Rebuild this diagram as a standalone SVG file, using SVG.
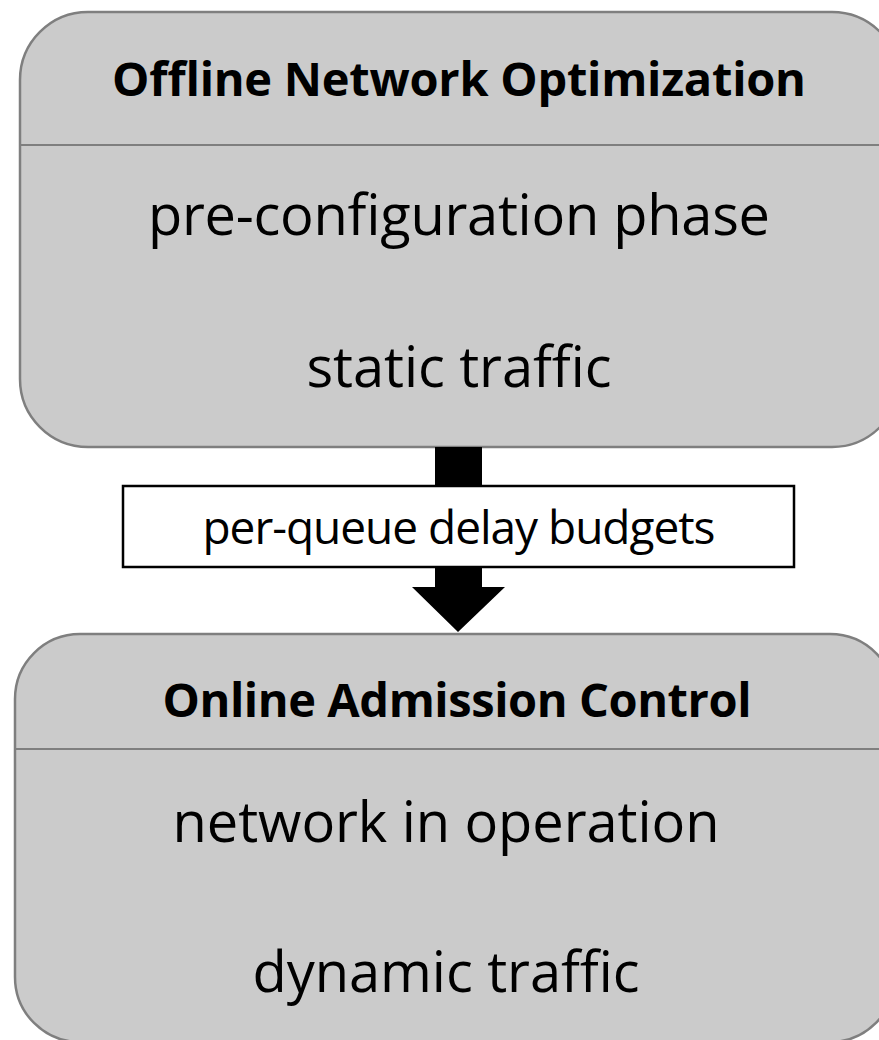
<svg xmlns="http://www.w3.org/2000/svg" width="879" height="1040" viewBox="0 0 879 1040">
  <style>
    .box { fill: #cbcbcb; stroke: #7f7f7f; stroke-width: 2.5; }
    .rule { stroke: #7f7f7f; stroke-width: 2; }
    .title { font-family: "Open Sans", "Liberation Sans", sans-serif; font-weight: bold; font-size: 47px; fill: #000; text-anchor: middle; }
    .body { font-family: "Open Sans", "Liberation Sans", sans-serif; font-size: 56px; fill: #000; text-anchor: middle; }
    .label { font-family: "Open Sans", "Liberation Sans", sans-serif; font-size: 46px; fill: #000; text-anchor: middle; }
  </style>
  <rect width="879" height="1040" fill="#ffffff"/>

  <!-- offline phase -->
  <g id="offline">
    <rect class="box" x="20" y="12" width="880" height="435" rx="68" ry="68"/>
    <line class="rule" x1="20" y1="145" x2="900" y2="145"/>
    <text class="title" x="459" y="96" textLength="694">Offline Network Optimization</text>
    <text class="body" x="459" y="235" textLength="622">pre-configuration phase</text>
    <text class="body" x="459" y="387" textLength="305">static traffic</text>
  </g>

  <!-- online phase -->
  <g id="online">
    <rect class="box" x="15" y="634" width="880" height="408" rx="65" ry="65"/>
    <line class="rule" x1="15" y1="749" x2="895" y2="749"/>
    <text class="title" x="457" y="717" textLength="589">Online Admission Control</text>
    <text class="body" x="446" y="842" textLength="547">network in operation</text>
    <text class="body" x="446" y="992" textLength="387">dynamic traffic</text>
  </g>

  <!-- block arrow between the phases -->
  <g id="connectors">
    <polygon points="435,447 482,447 482,587 505,587 458,632 412,587 435,587" fill="#000"/>
  </g>

  <!-- label on the arrow -->
  <g id="budgets">
    <rect x="123" y="486" width="671" height="81" fill="#ffffff" stroke="#000" stroke-width="2.5"/>
    <text class="label" x="459" y="544" textLength="513">per-queue delay budgets</text>
  </g>
</svg>
